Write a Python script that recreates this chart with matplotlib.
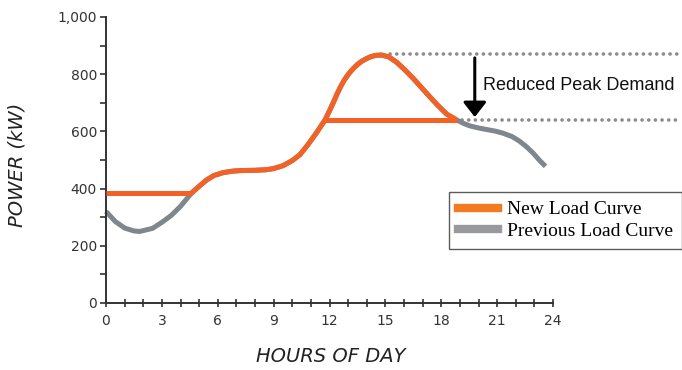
import matplotlib
matplotlib.use("Agg")
import matplotlib.pyplot as plt
from matplotlib.lines import Line2D
from matplotlib.patches import FancyArrowPatch

# ---- data ----
hours = [0, 0.5, 1, 1.5, 1.8, 2.5, 3, 3.5, 4, 4.6, 5.0, 5.4, 5.8, 6.3, 6.8, 7.2,
         8.0, 8.6, 9.0, 9.5, 10.0, 10.4, 10.8, 11.3, 11.76, 12.0, 12.2, 12.4,
         12.6, 12.8, 13.0, 13.25, 13.5, 13.75, 14.0, 14.25, 14.5, 14.8, 15.2,
         15.6, 16.0, 16.5, 16.9, 17.4, 17.8, 18.3, 18.83, 19.2, 19.55, 20.0,
         20.4, 20.9, 21.3, 21.8, 22.2, 22.6, 22.95, 23.3, 23.6]
previous_load = [320, 285, 262, 252, 250, 261, 282, 306, 338, 385, 408, 430, 446,
                 456, 461, 463, 464, 466, 470, 480, 498, 518, 550, 595, 640, 672,
                 700, 730, 757, 780, 799, 818, 834, 846, 855, 862, 866, 867, 860,
                 842, 818, 785, 756, 720, 692, 660, 640, 628, 619, 612, 607, 601,
                 594, 582, 566, 545, 523, 497, 478]
valley_fill_level = 385      # kW, new night-time floor
valley_fill_end = 4.6        # h
peak_cap_level = 640         # kW, reduced peak
peak_cap_start = 11.76       # h
peak_cap_end = 18.83         # h
original_peak = 870          # kW
x_ticks = [0, 3, 6, 9, 12, 15, 18, 21, 24]
y_ticks = [0, 200, 400, 600, 800, 1000]
y_tick_labels = ["0", "200", "400", "600", "800", "1,000"]
legend_labels = ["New Load Curve", "Previous Load Curve"]
annotation_text = "Reduced Peak Demand"

ORANGE = "#F26226"
GRAY = "#7F878D"
DOT = "#8C8C8C"
AXC = "#333333"

plt.rcParams["lines.scale_dashes"] = False
fig = plt.figure(figsize=(6.82, 3.70), dpi=100)
ax = fig.add_axes([106 / 682, 67 / 370, 447 / 682, 286 / 370])
ax.set_xlim(0, 24)
ax.set_ylim(0, 1000)

# previous curve (gray) underneath
ax.plot(hours, previous_load, color=GRAY, lw=3.6, solid_capstyle="butt",
        solid_joinstyle="round", zorder=2, clip_on=False)

# new curve (orange)
i0 = hours.index(valley_fill_end)
i1 = hours.index(peak_cap_end)
ax.plot(hours[i0:i1 + 1], previous_load[i0:i1 + 1], color=ORANGE, lw=3.6,
        solid_capstyle="butt", solid_joinstyle="round", zorder=3, clip_on=False)
ax.plot([0, valley_fill_end], [valley_fill_level, valley_fill_level], color=ORANGE,
        lw=3.6, solid_capstyle="butt", zorder=3)
ax.plot([peak_cap_start, peak_cap_end], [peak_cap_level, peak_cap_level], color=ORANGE,
        lw=3.6, solid_capstyle="butt", zorder=3)

# dotted reference lines extending beyond the axes
ax.plot([15.25, 30.8], [original_peak, original_peak], color=DOT, lw=2.6,
        linestyle=(0, (0.1, 4.7)), dash_capstyle="round", clip_on=False, zorder=1)
ax.plot([19.1, 30.8], [peak_cap_level, peak_cap_level], color=DOT, lw=2.6,
        linestyle=(0, (0.1, 4.7)), dash_capstyle="round", clip_on=False, zorder=1)

# arrow
arr = FancyArrowPatch((19.8, 857), (19.8, 650), arrowstyle="-|>,head_length=9,head_width=7",
                      mutation_scale=1, color="black", lw=2.2, clip_on=False, zorder=4,
                      shrinkA=0, shrinkB=0)
ax.add_patch(arr)
ax.text(20.25, 760, annotation_text, fontsize=13, family="Liberation Sans",
        color="#111111", va="center", ha="left", clip_on=False)

# axes styling
for s in ["top", "right"]:
    ax.spines[s].set_visible(False)
for s in ["left", "bottom"]:
    ax.spines[s].set_color(AXC)
    ax.spines[s].set_linewidth(1.4)
ax.set_xticks(range(0, 25))
ax.set_xticklabels([str(h) if h in x_ticks else "" for h in range(0, 25)])
ax.set_yticks(range(0, 1001, 100))
ax.set_yticklabels([y_tick_labels[y_ticks.index(v)] if v in y_ticks else "" for v in range(0, 1001, 100)])
ax.tick_params(axis="x", direction="inout", length=6, width=1.2, color=AXC,
               labelsize=10, labelcolor=AXC, pad=5)
ax.tick_params(axis="y", direction="out", length=4.5, width=1.2, color=AXC,
               labelsize=10, labelcolor=AXC, pad=2)

fig.text(17 / 682, 1 - 165 / 370, "POWER (kW)", rotation=90, fontsize=14, style="italic",
         color="#222222", ha="center", va="center")
fig.text(331 / 682, 1 - 357 / 370, "HOURS OF DAY", fontsize=14, style="italic",
         color="#222222", ha="center", va="center")

handles = [Line2D([], [], color="#F47A20", lw=6),
           Line2D([], [], color="#98999C", lw=6)]
leg = fig.legend(handles, legend_labels, loc="upper left",
                 bbox_to_anchor=(449 / 682, 1 - 192 / 370), borderaxespad=0,
                 prop={"family": "Liberation Serif", "size": 14},
                 frameon=True, fancybox=False, handlelength=2.05, handletextpad=0.5,
                 labelspacing=0.2, borderpad=0.45)
leg.get_frame().set_edgecolor("#333333")
leg.get_frame().set_linewidth(1.0)

fig.savefig("out.png", dpi=100)
